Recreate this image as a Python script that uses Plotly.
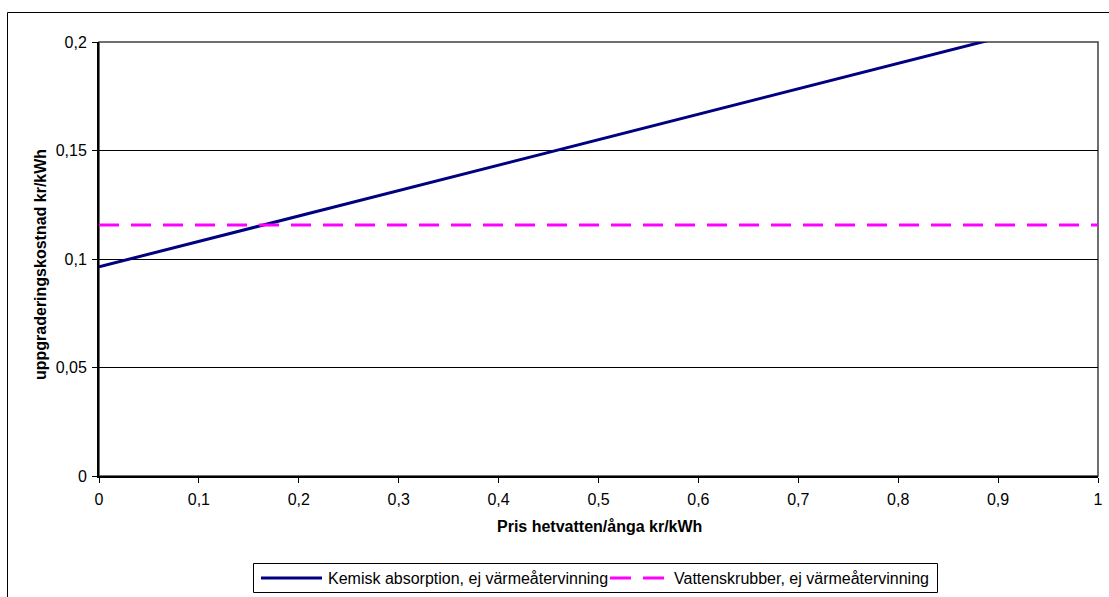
import plotly.graph_objects as go

# Data
pris = [0.0, 1.0]
kemisk = [0.0964, 0.2136]
vatten = [0.1157, 0.1157]
names = ["Kemisk absorption, ej värmeåtervinning", "Vattenskrubber, ej värmeåtervinning"]
x_ticks = [0, 0.1, 0.2, 0.3, 0.4, 0.5, 0.6, 0.7, 0.8, 0.9, 1]
x_ticktext = ["0", "0,1", "0,2", "0,3", "0,4", "0,5", "0,6", "0,7", "0,8", "0,9", "1"]
y_ticks = [0, 0.05, 0.1, 0.15, 0.2]
y_ticktext = ["0", "0,05", "0,1", "0,15", "0,2"]

FONT = "Liberation Sans, Arial, sans-serif"
W, H = 1109, 597
L, R, T, B = 99, 11, 42, 121
PW, PH = W - L - R, H - T - B


def px(x):
    return (x - L) / PW


def py(y):
    return (H - B - y) / PH


BLUE = "#000080"
MAGENTA = "#FF00FF"

fig = go.Figure()
fig.add_trace(go.Scatter(x=pris, y=kemisk, mode="lines", name=names[0],
                         line=dict(color=BLUE, width=3), showlegend=False))
fig.add_trace(go.Scatter(x=pris, y=vatten, mode="lines", name=names[1],
                         line=dict(color=MAGENTA, width=3, dash="20px,12px"),
                         showlegend=False))

shapes = [
    # plot area border
    dict(type="rect", xref="paper", yref="paper", x0=0, x1=1, y0=0, y1=1,
         line=dict(color="#404040", width=1.5), layer="below"),
    # outer chart border
    dict(type="rect", xref="paper", yref="paper", x0=px(7.5), x1=px(1200), y0=py(700), y1=py(12.5),
         line=dict(color="black", width=1), layer="below"),
    # legend box
    dict(type="rect", xref="paper", yref="paper", x0=px(253.5), x1=px(937.5), y0=py(592.5), y1=py(563.5),
         line=dict(color="black", width=1), fillcolor="white", layer="above"),
    # legend samples
    dict(type="line", xref="paper", yref="paper", x0=px(261), x1=px(322), y0=py(578), y1=py(578),
         line=dict(color=BLUE, width=3)),
    dict(type="line", xref="paper", yref="paper", x0=px(610), x1=px(664), y0=py(578), y1=py(578),
         line=dict(color=MAGENTA, width=3, dash="21px,12px")),
]

annotations = [
    dict(text=names[0], xref="paper", yref="paper", x=px(326), y=py(578),
         xanchor="left", yanchor="middle", showarrow=False, font=dict(size=16)),
    dict(text=names[1], xref="paper", yref="paper", x=px(672), y=py(578),
         xanchor="left", yanchor="middle", showarrow=False, font=dict(size=16)),
    dict(text="<b>Pris hetvatten/ånga kr/kWh</b>", xref="paper", yref="paper",
         x=px(599), y=py(526), xanchor="center", yanchor="middle", showarrow=False,
         font=dict(size=16)),
    dict(text="<b>uppgraderingskostnad kr/kWh</b>", xref="paper", yref="paper",
         x=px(40), y=py(265), xanchor="center", yanchor="middle", showarrow=False,
         textangle=-90, font=dict(size=16)),
]

fig.update_layout(
    width=W, height=H,
    margin=dict(l=L, r=R, t=T, b=B, autoexpand=False),
    paper_bgcolor="white", plot_bgcolor="white",
    font=dict(family=FONT, size=16, color="black"),
    showlegend=False,
    xaxis=dict(range=[0, 1], tickvals=x_ticks, ticktext=x_ticktext,
               showgrid=False, zeroline=False, showline=True, linecolor="black",
               linewidth=2, ticks="outside", ticklen=5, tickcolor="black",
               ticklabelstandoff=3, fixedrange=True),
    yaxis=dict(range=[0, 0.2], tickvals=y_ticks, ticktext=y_ticktext,
               showgrid=True, gridcolor="black", gridwidth=1, zeroline=False,
               showline=True, linecolor="black", linewidth=2,
               ticks="outside", ticklen=5, tickcolor="black",
               ticklabelstandoff=2, fixedrange=True),
    shapes=shapes,
    annotations=annotations,
)

fig.write_html("out.html")
